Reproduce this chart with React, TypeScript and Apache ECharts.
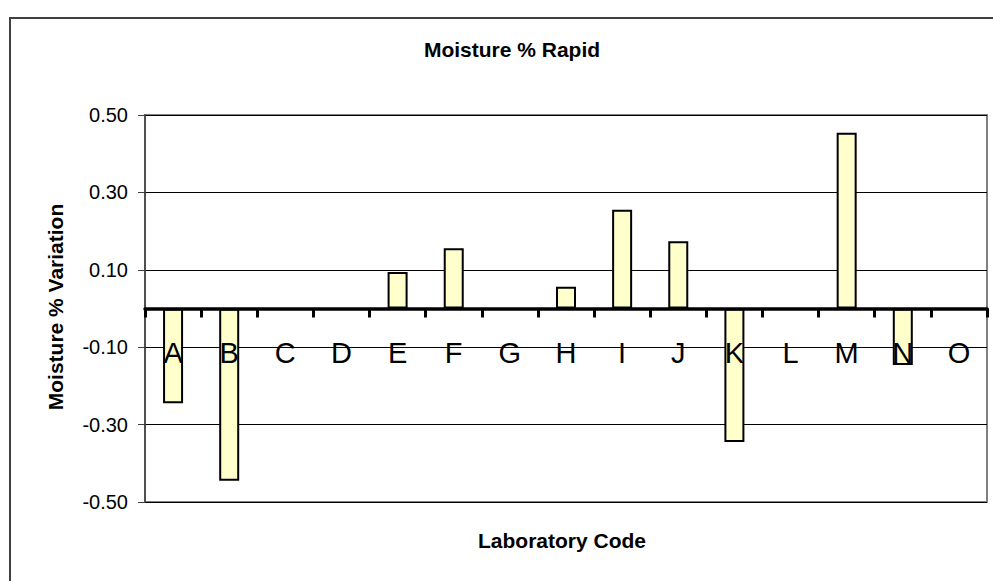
import React, { useEffect, useRef } from "react";
import * as echarts from "echarts";

const categories = ["A", "B", "C", "D", "E", "F", "G", "H", "I", "J", "K", "L", "M", "N", "O"];
const variation: (number | null)[] = [
  -0.245, -0.445, null, null, 0.094, 0.156, null, 0.056, 0.255, 0.174, -0.345, null, 0.454, -0.146, null,
];
const chartTitle = "Moisture % Rapid";
const xTitle = "Laboratory Code";
const yTitle = "Moisture % Variation";

const FONT = "'Liberation Sans', Arial, sans-serif";

export default function App() {
  const ref = useRef<HTMLDivElement>(null);
  useEffect(() => {
    if (!ref.current) return;
    const chart = echarts.init(ref.current, undefined, { renderer: "svg" });
    chart.setOption({
      animation: false,
      backgroundColor: "#ffffff",
      grid: {
        left: 145,
        top: 115,
        right: 6,
        bottom: 79,
        show: true,
        borderColor: "#808080",
        borderWidth: 2,
        backgroundColor: "transparent",
      },
      xAxis: {
        type: "category",
        data: categories,
        z: 10,
        axisLine: { onZero: true, lineStyle: { color: "#000", width: 3.5 } },
        axisTick: { show: true, interval: 0, length: 9, lineStyle: { color: "#000", width: 3 } },
        axisLabel: {
          interval: 0,
          margin: -164,
          color: "#000",
          fontSize: 29,
          fontFamily: FONT,
        },
        splitLine: { show: false },
      },
      yAxis: {
        type: "value",
        min: -0.5,
        max: 0.5,
        interval: 0.2,
        axisLine: { show: true, lineStyle: { color: "#404040", width: 1.5 } },
        axisTick: { show: true, length: 7, lineStyle: { color: "#404040", width: 1 } },
        axisLabel: {
          margin: 17,
          color: "#000",
          fontSize: 20,
          fontFamily: FONT,
          formatter: (v: number) => v.toFixed(2),
        },
        splitLine: { show: true, lineStyle: { color: "#000", width: 1 } },
      },
      series: [
        {
          type: "bar",
          data: variation.map((v) => (v === null ? "-" : v)),
          barWidth: 20,
          itemStyle: { color: "#FFFFCC", borderColor: "#000", borderWidth: 2 },
        },
      ],
      graphic: [
        {
          type: "rect",
          shape: { x: 10, y: 18, width: 1100, height: 700 },
          style: { fill: "none", stroke: "#404040", lineWidth: 2 },
          silent: true,
        },
        {
          type: "text",
          x: 512,
          y: 49,
          style: {
            text: chartTitle,
            align: "center",
            verticalAlign: "middle",
            fill: "#000",
            font: `bold 21px ${FONT}`,
          },
        },
        {
          type: "text",
          x: 562,
          y: 540,
          style: {
            text: xTitle,
            align: "center",
            verticalAlign: "middle",
            fill: "#000",
            font: `bold 21px ${FONT}`,
          },
        },
        {
          type: "text",
          x: 55,
          y: 307,
          rotation: Math.PI / 2,
          style: {
            text: yTitle,
            align: "center",
            verticalAlign: "middle",
            fill: "#000",
            font: `bold 21px ${FONT}`,
          },
        },
      ],
    });
    return () => chart.dispose();
  }, []);
  return (
    <div
      ref={ref}
      style={{ position: "fixed", left: 0, top: 0, width: 993, height: 581, background: "#fff" }}
    />
  );
}
